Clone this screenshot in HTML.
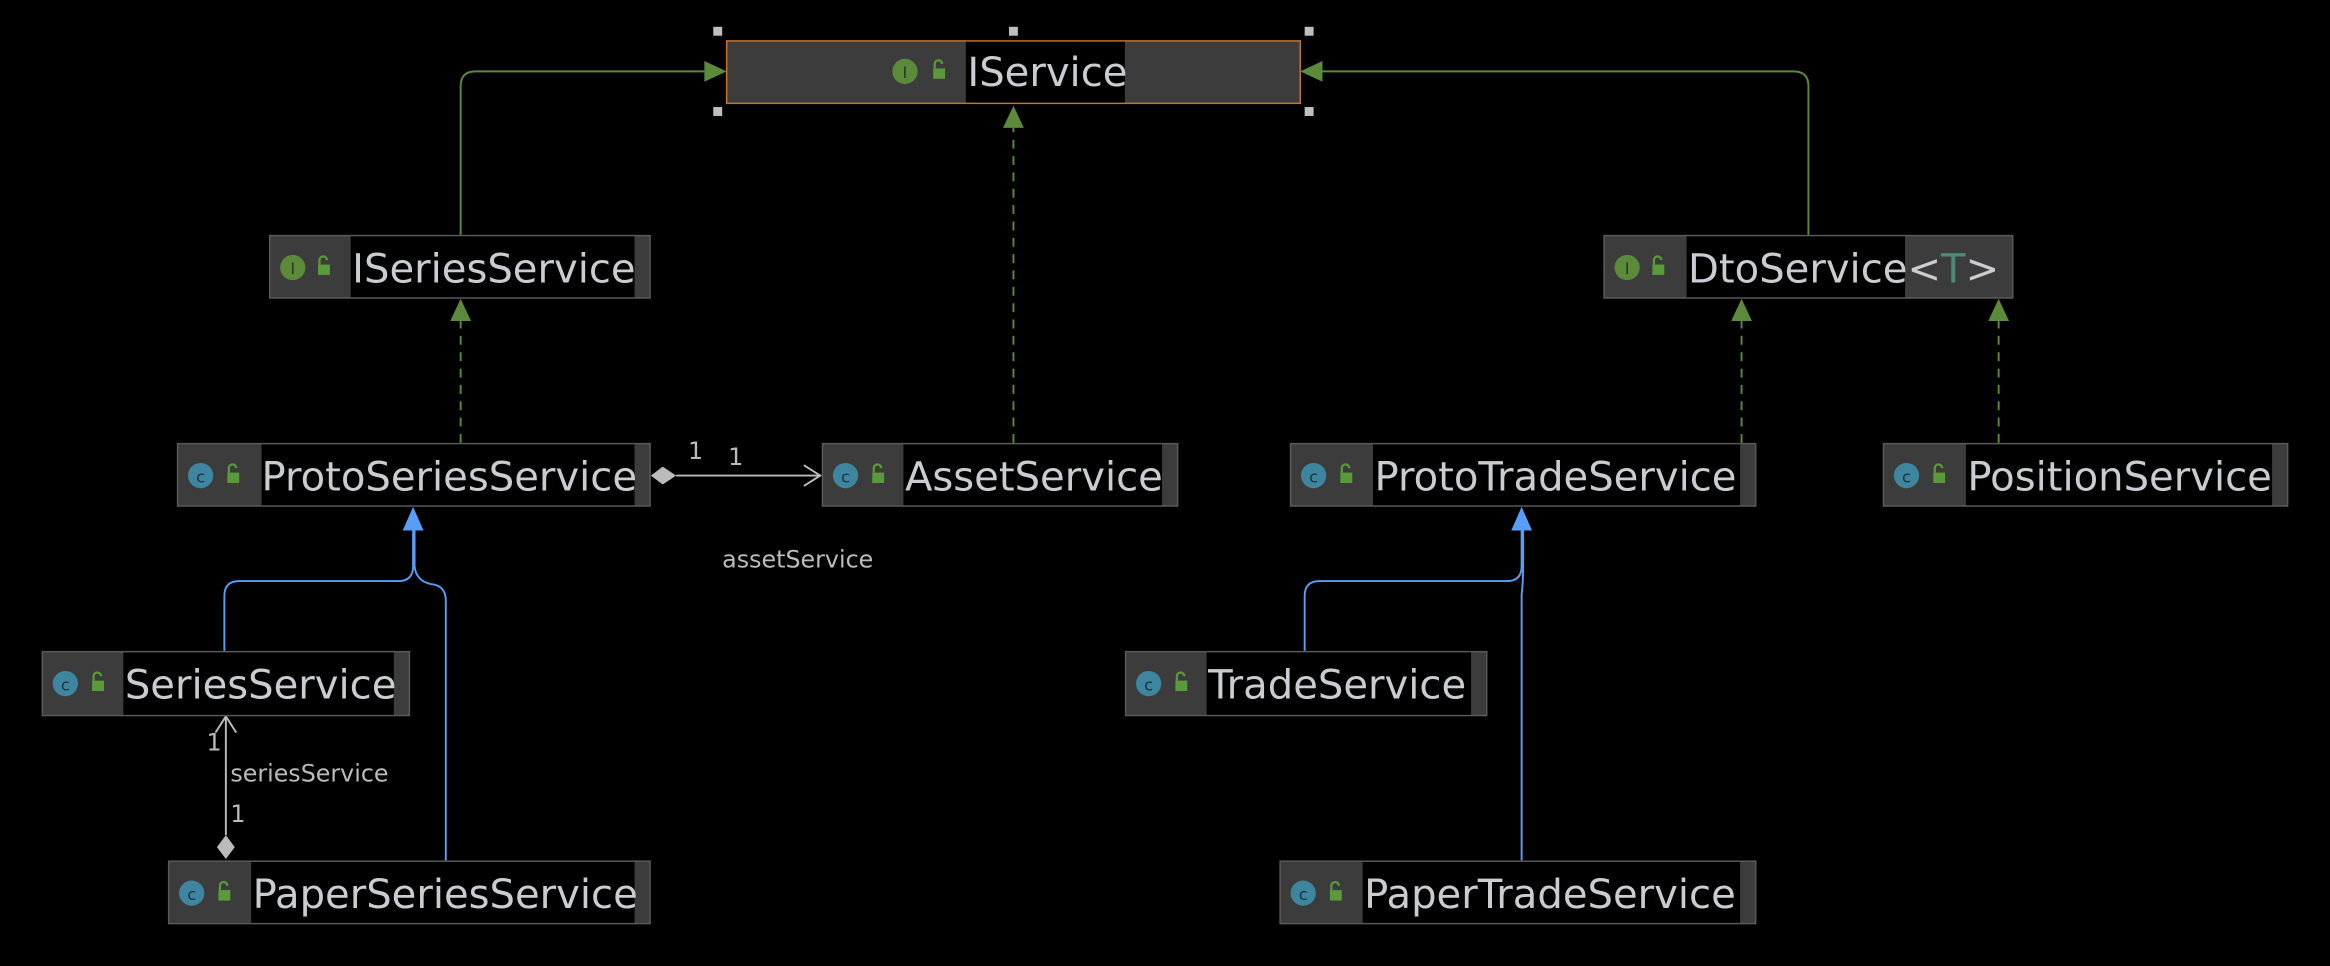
<!DOCTYPE html>
<html><head><meta charset="utf-8"><style>
html,body{margin:0;padding:0;background:#000;}
svg{display:block;}
text{font-family:"DejaVu Sans","Liberation Sans",sans-serif;}
.n{font-size:27px;fill:#c9ccd0;}
.l{font-size:16px;fill:#bbbbbb;}
</style></head><body>
<svg width="2330" height="966" viewBox="0 0 1568 650" xmlns="http://www.w3.org/2000/svg">
<defs>
<g id="ic"><circle r="8.5" fill="#5a8a3a"/><text x="0" y="4.5" text-anchor="middle" font-size="11" fill="#2a3a1a" style="font-family:'DejaVu Sans',sans-serif">I</text></g>
<g id="cc"><circle r="8.5" fill="#3e86a0"/><text x="0" y="4.5" text-anchor="middle" font-size="11" fill="#1a3340" style="font-family:'DejaVu Sans',sans-serif">c</text></g>
<g id="lk"><rect x="-2" y="0" width="8" height="7" fill="#5a9a3a"/><path d="M-1 0 V-3 a2.5 2.5 0 0 1 5 0" stroke="#5a9a3a" stroke-width="1.5" fill="none"/></g>
</defs>
<rect width="1568" height="650" fill="#000"/>

<g fill="none" stroke="#5a8a3a" stroke-width="1.3">
<path d="M310 158 V58 Q310 48 320 48 H474"/>
<path d="M1217 158 V58 Q1217 48 1207 48 H890"/>
<path d="M682 298 V86" stroke-dasharray="6,5"/>
<path d="M310 298 V216" stroke-dasharray="6,5"/>
<path d="M1172 298 V216" stroke-dasharray="6,5"/>
<path d="M1345 298 V216" stroke-dasharray="6,5"/>
</g>
<g fill="#5a8a3a">
<polygon points="489,48 474,41 474,55"/>
<polygon points="875,48 890,41 890,55"/>
<polygon points="682,71 675,86 689,86"/>
<polygon points="310,201 303,216 317,216"/>
<polygon points="1172,201 1165,216 1179,216"/>
<polygon points="1345,201 1338,216 1352,216"/>
</g>
<g fill="none" stroke="#589df6" stroke-width="1.3">
<path d="M151 438 V401 Q151 391 161 391 H268 Q278 391 278 381 V356"/>
<path d="M300 579 V404 Q300 394 290 393 Q280 391 279 381 V356"/>
<path d="M878 438 V401 Q878 391 888 391 H1014 Q1024 391 1024 381 V356"/>
<path d="M1024 579 V400 Q1025 392 1025 381 V356"/>
</g>
<g fill="#589df6">
<polygon points="278,341 271,357 285,357"/>
<polygon points="1024,341 1017,357 1031,357"/>
</g>
<g stroke="#bbbbbb" stroke-width="1.3" fill="none">
<path d="M455 320 H552"/><path d="M541 313 L552 320 L541 327"/>
<path d="M152 562 V482"/><path d="M145 493 L152 482 L159 493"/>
</g>
<g fill="#bbbbbb">
<polygon points="438,320 446,314 455,320 446,326"/>
<polygon points="152,562 146,570 152,578 158,570"/>
</g>
<text class="l" x="463" y="309">1</text>
<text class="l" x="490" y="313">1</text>
<text class="l" x="486" y="382">assetService</text>
<text class="l" x="139" y="505">1</text>
<text class="l" x="155" y="526">seriesService</text>
<text class="l" x="155" y="553">1</text>

<rect x="489" y="27.5" width="386" height="42" fill="#3c3c3c" stroke="#c8742a" stroke-width="1"/>
<rect x="650" y="28" width="107" height="41" fill="#000"/>
<use href="#ic" x="609" y="48"/><use href="#lk" x="630" y="46"/>
<text class="n" x="651" y="58">IService</text>
<g fill="#bfbfbf">
<rect x="480" y="18" width="6" height="6"/><rect x="679" y="18" width="6" height="6"/><rect x="878" y="18" width="6" height="6"/>
<rect x="480" y="72" width="6" height="6"/><rect x="878" y="72" width="6" height="6"/>
</g>

<g stroke="#5a5a5a" stroke-width="1">
<rect x="181.5" y="158.5" width="256" height="42" fill="#3c3c3c"/>
<rect x="1079.5" y="158.5" width="275" height="42" fill="#3c3c3c"/>
<rect x="119.5" y="298.5" width="318" height="42" fill="#3c3c3c"/>
<rect x="553.5" y="298.5" width="239" height="42" fill="#3c3c3c"/>
<rect x="868.5" y="298.5" width="313" height="42" fill="#3c3c3c"/>
<rect x="1267.5" y="298.5" width="272" height="42" fill="#3c3c3c"/>
<rect x="28.5" y="438.5" width="247" height="43" fill="#3c3c3c"/>
<rect x="757.5" y="438.5" width="243" height="43" fill="#3c3c3c"/>
<rect x="113.5" y="579.5" width="324" height="42" fill="#3c3c3c"/>
<rect x="861.5" y="579.5" width="320" height="42" fill="#3c3c3c"/>
</g>
<g fill="#000">
<rect x="236" y="159" width="191" height="41"/>
<rect x="1135" y="159" width="147" height="41"/>
<rect x="176" y="299" width="251" height="41"/>
<rect x="608" y="299" width="174" height="41"/>
<rect x="924" y="299" width="247" height="41"/>
<rect x="1323" y="299" width="206" height="41"/>
<rect x="83" y="439" width="182" height="42"/>
<rect x="812" y="439" width="178" height="42"/>
<rect x="169" y="580" width="258" height="41"/>
<rect x="917" y="580" width="254" height="41"/>
</g>
<use href="#ic" x="197" y="180"/><use href="#lk" x="216" y="178"/>
<use href="#ic" x="1095" y="180"/><use href="#lk" x="1114" y="178"/>
<use href="#cc" x="135" y="320"/><use href="#lk" x="155" y="318"/>
<use href="#cc" x="569" y="320"/><use href="#lk" x="589" y="318"/>
<use href="#cc" x="884" y="320"/><use href="#lk" x="904" y="318"/>
<use href="#cc" x="1283" y="320"/><use href="#lk" x="1303" y="318"/>
<use href="#cc" x="44" y="460"/><use href="#lk" x="64" y="458"/>
<use href="#cc" x="773" y="460"/><use href="#lk" x="793" y="458"/>
<use href="#cc" x="129" y="601"/><use href="#lk" x="149" y="599"/>
<use href="#cc" x="877" y="601"/><use href="#lk" x="897" y="599"/>

<text class="n" x="237" y="190">ISeriesService</text>
<text class="n" x="1136" y="190">DtoService<tspan fill="#c9ccd0">&lt;</tspan><tspan fill="#4a8a7a">T</tspan><tspan fill="#c9ccd0">&gt;</tspan></text>
<text class="n" x="176" y="330">ProtoSeriesService</text>
<text class="n" x="609" y="330">AssetService</text>
<text class="n" x="925" y="330">ProtoTradeService</text>
<text class="n" x="1324" y="330">PositionService</text>
<text class="n" x="84" y="470">SeriesService</text>
<text class="n" x="813" y="470">TradeService</text>
<text class="n" x="170" y="611">PaperSeriesService</text>
<text class="n" x="918" y="611">PaperTradeService</text>
</svg>
</body></html>
